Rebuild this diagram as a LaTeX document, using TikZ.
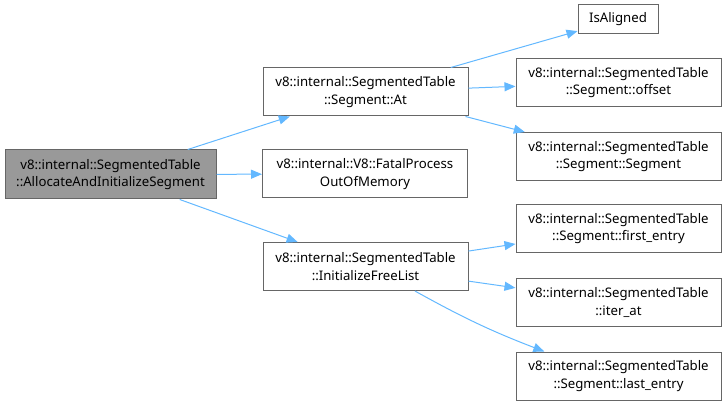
\documentclass[tikz,border=0pt]{standalone}
\usepackage{fontspec}
\setmainfont{Noto Sans}
\usetikzlibrary{arrows.meta,calc}
\definecolor{edgeblue}{HTML}{63B8FF}
\definecolor{nodeborder}{HTML}{666666}
\definecolor{mainfill}{HTML}{999999}
\begin{document}
\begin{tikzpicture}[x=1pt,y=-1pt,
  box/.style={draw=nodeborder, line width=1pt, fill=white, align=center, inner sep=0pt,
    minimum width=205pt, minimum height=48pt, font=\fontsize{13.2}{17.5}\selectfont},
  call/.style={draw=edgeblue, line width=1pt, -{Triangle[length=11pt,width=9pt]}}]
\useasboundingbox (0,0) rectangle (726,406);
\node[box, fill=mainfill, minimum width=211pt, minimum height=49pt] (main) at (110.5,174.5)
  {v8::internal::SegmentedTable\\::AllocateAndInitializeSegment};
\node[box] (at) at (365.5,92) {v8::internal::SegmentedTable\\::Segment::At};
\node[box] (fatal) at (365,174) {v8::internal::V8::FatalProcess\\OutOfMemory};
\node[box] (ifl) at (365.5,266.5) {v8::internal::SegmentedTable\\::InitializeFreeList};
\node[box, minimum width=80pt, minimum height=29pt] (isal) at (618,19.5) {IsAligned};
\node[box] (off) at (618.5,82.5) {v8::internal::SegmentedTable\\::Segment::offset};
\node[box] (seg) at (618.5,156.5) {v8::internal::SegmentedTable\\::Segment::Segment};
\node[box] (first) at (618.5,228.5) {v8::internal::SegmentedTable\\::Segment::first\_entry};
\node[box] (iter) at (618.5,302.5) {v8::internal::SegmentedTable\\::iter\_at};
\node[box] (last) at (618.5,376) {v8::internal::SegmentedTable\\::Segment::last\_entry};
\draw[call] (main) -- (at);
\draw[call] (main) -- (fatal);
\draw[call] (main) -- (ifl);
\draw[call] (at) -- (isal);
\draw[call] (at) -- (off);
\draw[call] ($(at.south east)+(-3,0)$) -- (seg);
\draw[call] (ifl) -- (first);
\draw[call] (ifl) -- (iter);
\draw[call] ($(ifl.south west)!0.74!(ifl.south east)$) to[bend right=4] ($(last.north west)!0.14!(last.north east)$);
\end{tikzpicture}
\end{document}
